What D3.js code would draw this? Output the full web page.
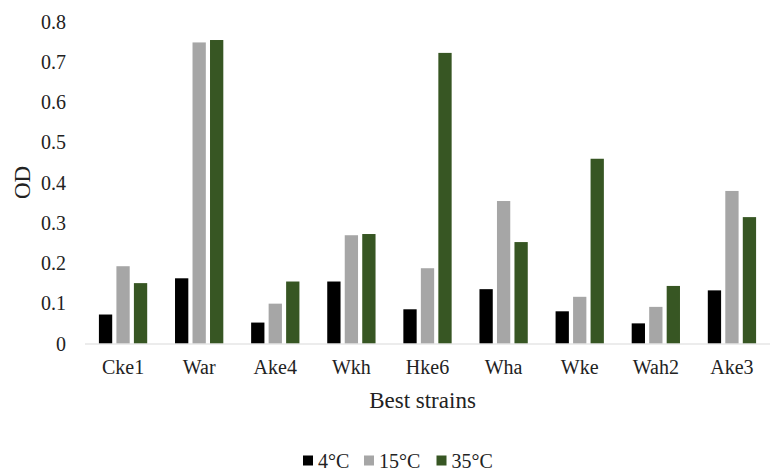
<!DOCTYPE html>
<html>
<head>
<meta charset="utf-8">
<script src="https://cdn.jsdelivr.net/npm/d3@7"></script>
<style>
  body { margin: 0; background: #fff; }
  svg text { font-family: "Liberation Serif", "Times New Roman", serif; fill: #222; }
</style>
</head>
<body>
<div id="chart"></div>
<script>
const STRAINS = ["Cke1", "War", "Ake4", "Wkh", "Hke6", "Wha", "Wke", "Wah2", "Ake3"];
const SERIES = ["4°C", "15°C", "35°C"];
const OD_4 = [0.072, 0.162, 0.052, 0.154, 0.085, 0.135, 0.080, 0.050, 0.132];
const OD_15 = [0.192, 0.748, 0.099, 0.269, 0.187, 0.354, 0.116, 0.091, 0.379];
const OD_35 = [0.150, 0.754, 0.154, 0.272, 0.722, 0.252, 0.459, 0.143, 0.314];
const Y_TICKS = [0, 0.1, 0.2, 0.3, 0.4, 0.5, 0.6, 0.7, 0.8];

const COLORS = ["#000000", "#a6a6a6", "#375623"];
const seriesValues = [OD_4, OD_15, OD_35];

const data = STRAINS.map((s, i) => ({
    strain: s,
    values: SERIES.map((k, j) => ({ key: k, idx: j, value: seriesValues[j][i] }))
}));

// ── Layout ─────────────────────────────────────────────────────────────────
const W = 776, H = 470;
const plot = { left: 85, right: 770, top: 21.5, bottom: 343.5 };

const svg = d3.select("#chart").append("svg")
    .attr("width", W).attr("height", H);

// ── Scales ─────────────────────────────────────────────────────────────────
const x0 = d3.scaleBand().domain(STRAINS).range([plot.left, plot.right]);
const x1 = d3.scaleBand().domain(SERIES).range([0, x0.bandwidth()])
    .paddingInner(0.24).paddingOuter(0.795);
const y = d3.scaleLinear().domain([0, 0.8]).range([plot.bottom, plot.top]);

// ── Y tick labels ─────────────────────────────────────────────────────────
svg.append("g")
    .selectAll("text")
    .data(Y_TICKS)
    .join("text")
    .attr("x", 66)
    .attr("y", d => y(d))
    .attr("dy", "0.35em")
    .attr("text-anchor", "end")
    .attr("font-size", "20px")
    .text(d => d === 0 ? "0" : d3.format(".1f")(d));

// ── Bars ───────────────────────────────────────────────────────────────────
svg.append("g")
    .selectAll("g")
    .data(data)
    .join("g")
    .attr("transform", d => `translate(${x0(d.strain)},0)`)
    .selectAll("rect")
    .data(d => d.values)
    .join("rect")
    .attr("x", d => x1(d.key))
    .attr("y", d => y(d.value))
    .attr("width", x1.bandwidth())
    .attr("height", d => y(0) - y(d.value))
    .attr("fill", d => COLORS[d.idx]);

// ── X axis line ────────────────────────────────────────────────────────────
svg.append("line")
    .attr("x1", plot.left).attr("x2", plot.right)
    .attr("y1", y(0) + 0.5).attr("y2", y(0) + 0.5)
    .attr("stroke", "#d9d9d9").attr("stroke-width", 1);

// ── X labels ───────────────────────────────────────────────────────────────
svg.append("g")
    .selectAll("text")
    .data(STRAINS)
    .join("text")
    .attr("x", d => x0(d) + x0.bandwidth() / 2)
    .attr("y", 367)
    .attr("dy", "0.35em")
    .attr("text-anchor", "middle")
    .attr("font-size", "20px")
    .text(d => d);

// ── Axis titles ────────────────────────────────────────────────────────────
svg.append("text")
    .attr("x", (plot.left + plot.right) / 2 - 5).attr("y", 400)
    .attr("dy", "0.35em")
    .attr("text-anchor", "middle")
    .attr("font-size", "23px")
    .text("Best strains");

svg.append("text")
    .attr("transform", `translate(22,${(plot.top + plot.bottom) / 2}) rotate(-90)`)
    .attr("dy", "0.35em")
    .attr("text-anchor", "middle")
    .attr("font-size", "23px")
    .text("OD");

// ── Legend ─────────────────────────────────────────────────────────────────
const legendX = [303, 364, 436.5];
const legend = svg.append("g")
    .selectAll("g")
    .data(SERIES)
    .join("g")
    .attr("transform", (d, i) => `translate(${legendX[i]},460.5)`);

legend.append("rect")
    .attr("x", 0).attr("y", -5)
    .attr("width", 10).attr("height", 10)
    .attr("fill", (d, i) => COLORS[i]);

legend.append("text")
    .attr("x", 15).attr("y", 0)
    .attr("dy", "0.35em")
    .attr("font-size", "20px")
    .text(d => d);
</script>
</body>
</html>
